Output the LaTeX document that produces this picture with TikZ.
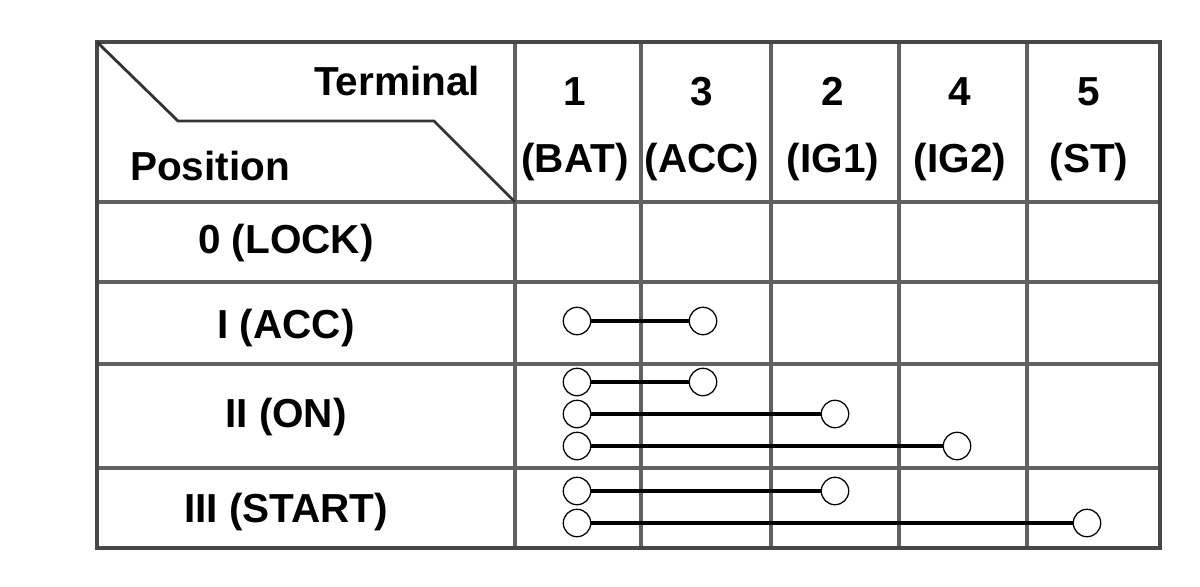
\documentclass[tikz,border=0pt]{standalone}
\usepackage{fontspec}
\setmainfont{Liberation Sans}

\tikzset{
  grid line/.style={line width=2.5pt, draw=black!62},
  frame line/.style={line width=3.4pt, draw=black!72},
  label text/.style={font=\fontsize{28.8}{34}\selectfont\bfseries, anchor=base, inner sep=0pt},
  term/.style={circle, draw, fill=white, line width=0.9pt, minimum size=19.5pt, inner sep=0pt},
  link/.style={line width=2.5pt},
}

\begin{document}
\begin{tikzpicture}[x=0.025cm, y=-0.025cm]
\useasboundingbox (0,0) rectangle (1200,586);
% table grid
\foreach \x in {515,641,771,899,1027}
  \draw [grid line] (\x,42) -- (\x,548);
\foreach \y in {202,282,364,468}
  \draw [grid line] (97,\y) -- (1160,\y);
\draw [frame line] (97,42) rectangle (1160,548);
% corner cell
\draw [line width=2pt, black!80] (97,42) -- (178,121) -- (434,121) -- (515,202);
\node [label text] (terminal) at (397,95) {Terminal};
\node [label text] (position) at (210,180) {Position};

% terminals
\foreach \x/\n/\t in {575/1/BAT, 702/3/ACC, 833/2/IG1, 960/4/IG2, 1089/5/ST}
{
  \node [label text] (num\n) at (\x,105) {\n};
  \node [label text] (name\n) at (\x,172) {(\t)};
}

% positions
\node [label text] (lock)  at (286,253) {0 (LOCK)};
\node [label text] (acc)   at (286,338) {I (ACC)};
\node [label text] (on)    at (286,427) {II (ON)};
\node [label text] (start) at (286,522) {III (START)};

% contacts
\foreach \y/\x [count=\k] in {321/703, 382/703, 414/835, 446/957, 491/835, 523/1087}
{
  \node [term] (l\k) at (577,\y) {};
  \node [term] (r\k) at (\x,\y) {};
  \draw [link] (l\k) -- (r\k);
}
\end{tikzpicture}
\end{document}
